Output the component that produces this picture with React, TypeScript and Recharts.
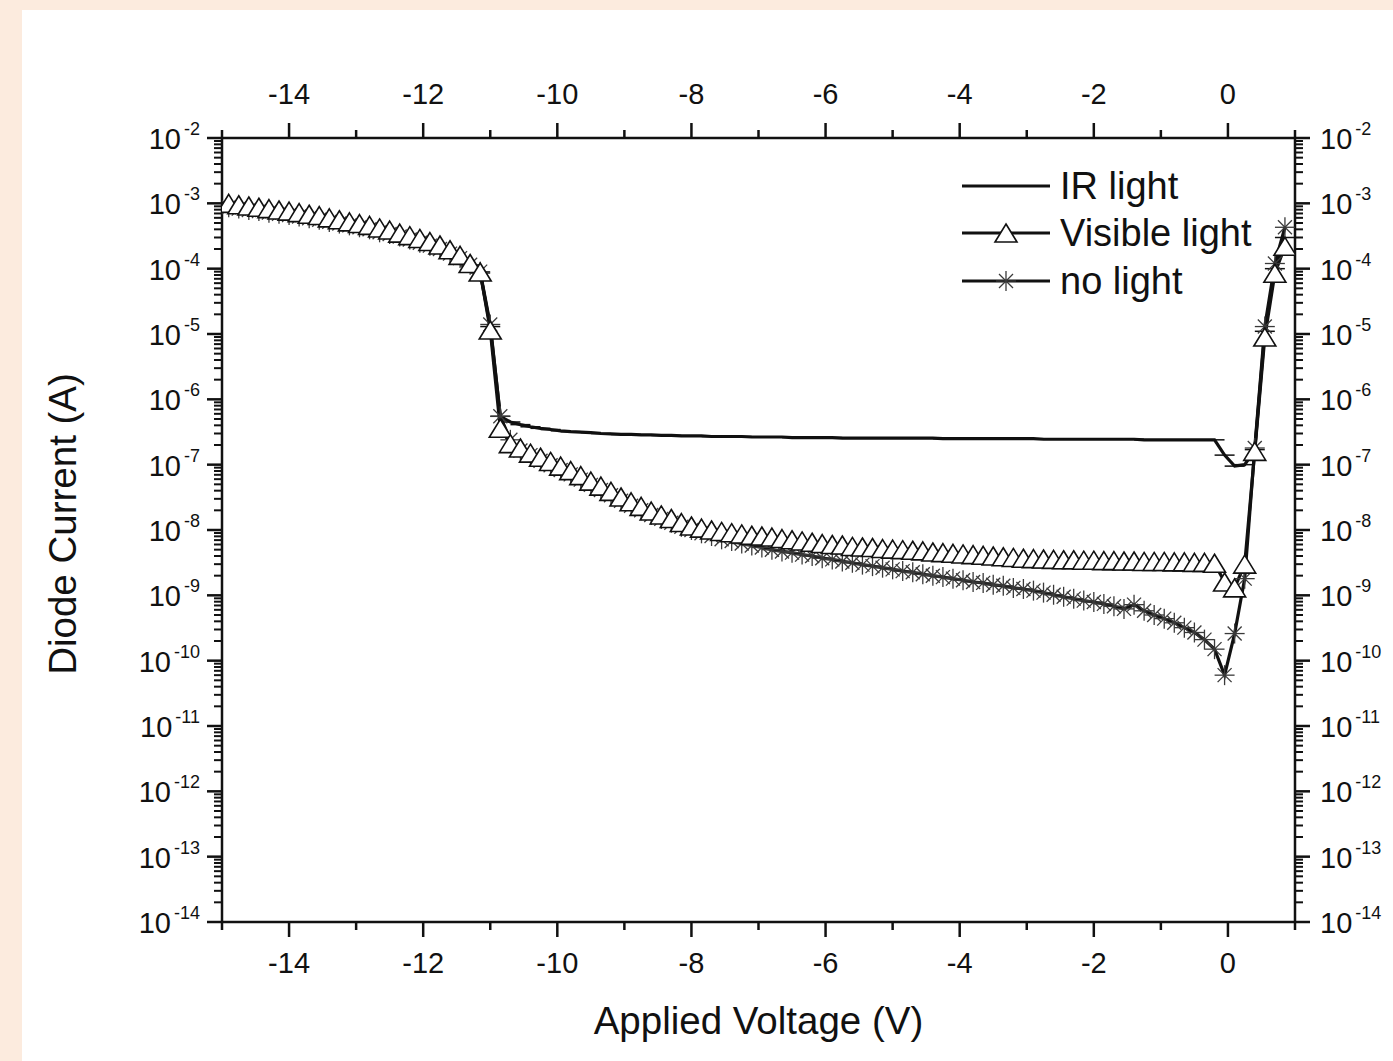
import React from 'react';
import { LineChart, Line, XAxis, YAxis, Legend } from 'recharts';

// ---------- data ----------
const voltage = [
  -14.9, -14.75, -14.6, -14.45, -14.3, -14.15, -14.0, -13.85, -13.7, -13.55,
  -13.4, -13.25, -13.1, -12.95, -12.8, -12.65, -12.5, -12.35, -12.2, -12.05,
  -11.9, -11.75, -11.6, -11.45, -11.3, -11.15, -11.0, -10.85, -10.7, -10.55,
  -10.4, -10.25, -10.1, -9.95, -9.8, -9.65, -9.5, -9.35, -9.2, -9.05,
  -8.9, -8.75, -8.6, -8.45, -8.3, -8.15, -8.0, -7.85, -7.7, -7.55,
  -7.4, -7.25, -7.1, -6.95, -6.8, -6.65, -6.5, -6.35, -6.2, -6.05,
  -5.9, -5.75, -5.6, -5.45, -5.3, -5.15, -5.0, -4.85, -4.7, -4.55,
  -4.4, -4.25, -4.1, -3.95, -3.8, -3.65, -3.5, -3.35, -3.2, -3.05,
  -2.9, -2.75, -2.6, -2.45, -2.3, -2.15, -2.0, -1.85, -1.7, -1.55,
  -1.4, -1.25, -1.1, -0.95, -0.8, -0.65, -0.5, -0.35, -0.2, -0.05,
  0.1, 0.25, 0.4, 0.55, 0.7, 0.85,
];

const irLight = [
  8.5e-4, 8.1e-4, 7.8e-4, 7.4e-4, 7.1e-4, 6.8e-4, 6.5e-4, 6.2e-4, 5.8e-4, 5.5e-4,
  5.1e-4, 4.8e-4, 4.5e-4, 4.2e-4, 3.9e-4, 3.6e-4, 3.3e-4, 3.0e-4, 2.7e-4, 2.45e-4,
  2.2e-4, 1.95e-4, 1.7e-4, 1.4e-4, 1.1e-4, 8.6e-5, 1.3e-5, 5.5e-7, 4.5e-7, 4.1e-7,
  3.8e-7, 3.6e-7, 3.45e-7, 3.3e-7, 3.2e-7, 3.15e-7, 3.1e-7, 3.0e-7, 2.95e-7, 2.9e-7,
  2.9e-7, 2.85e-7, 2.85e-7, 2.8e-7, 2.8e-7, 2.75e-7, 2.75e-7, 2.75e-7, 2.7e-7, 2.7e-7,
  2.7e-7, 2.7e-7, 2.65e-7, 2.65e-7, 2.65e-7, 2.65e-7, 2.6e-7, 2.6e-7, 2.6e-7, 2.6e-7,
  2.6e-7, 2.55e-7, 2.55e-7, 2.55e-7, 2.55e-7, 2.55e-7, 2.55e-7, 2.55e-7, 2.55e-7, 2.55e-7,
  2.55e-7, 2.5e-7, 2.5e-7, 2.5e-7, 2.5e-7, 2.5e-7, 2.5e-7, 2.5e-7, 2.5e-7, 2.5e-7,
  2.5e-7, 2.45e-7, 2.45e-7, 2.45e-7, 2.45e-7, 2.45e-7, 2.45e-7, 2.45e-7, 2.45e-7, 2.45e-7,
  2.45e-7, 2.4e-7, 2.4e-7, 2.4e-7, 2.4e-7, 2.4e-7, 2.4e-7, 2.4e-7, 2.4e-7, 1.4e-7,
  9.5e-8, 1.0e-7, 1.7e-7, 1.1e-5, 1.0e-4, 3.0e-4,
];

const visibleLight = [
  1.0e-3, 9.5e-4, 9.1e-4, 8.7e-4, 8.3e-4, 7.9e-4, 7.6e-4, 7.2e-4, 6.8e-4, 6.5e-4,
  6.0e-4, 5.6e-4, 5.2e-4, 4.9e-4, 4.6e-4, 4.2e-4, 3.9e-4, 3.5e-4, 3.2e-4, 2.9e-4,
  2.6e-4, 2.3e-4, 1.95e-4, 1.6e-4, 1.2e-4, 8.9e-5, 1.15e-5, 3.6e-7, 2.1e-7, 1.8e-7,
  1.5e-7, 1.3e-7, 1.12e-7, 9.5e-8, 8.1e-8, 6.8e-8, 5.6e-8, 4.7e-8, 3.9e-8, 3.2e-8,
  2.7e-8, 2.3e-8, 1.95e-8, 1.7e-8, 1.5e-8, 1.3e-8, 1.15e-8, 1.07e-8, 1.0e-8, 9.5e-9,
  9.1e-9, 8.7e-9, 8.3e-9, 8.1e-9, 7.8e-9, 7.4e-9, 7.1e-9, 6.8e-9, 6.5e-9, 6.2e-9,
  6.0e-9, 5.9e-9, 5.6e-9, 5.5e-9, 5.4e-9, 5.2e-9, 5.1e-9, 5.0e-9, 4.9e-9, 4.8e-9,
  4.6e-9, 4.5e-9, 4.4e-9, 4.3e-9, 4.2e-9, 4.1e-9, 4.0e-9, 3.9e-9, 3.8e-9, 3.7e-9,
  3.65e-9, 3.6e-9, 3.55e-9, 3.5e-9, 3.5e-9, 3.45e-9, 3.45e-9, 3.4e-9, 3.4e-9, 3.35e-9,
  3.35e-9, 3.3e-9, 3.3e-9, 3.3e-9, 3.25e-9, 3.25e-9, 3.2e-9, 3.2e-9, 3.1e-9, 1.6e-9,
  1.3e-9, 3.0e-9, 1.6e-7, 9.0e-6, 8.5e-5, 2.2e-4,
];

const noLight = [
  8.7e-4, 8.3e-4, 7.9e-4, 7.6e-4, 7.2e-4, 6.9e-4, 6.6e-4, 6.3e-4, 5.9e-4, 5.6e-4,
  5.2e-4, 4.9e-4, 4.6e-4, 4.3e-4, 4.0e-4, 3.6e-4, 3.4e-4, 3.1e-4, 2.8e-4, 2.5e-4,
  2.25e-4, 2.0e-4, 1.7e-4, 1.45e-4, 1.15e-4, 9.0e-5, 1.4e-5, 5.5e-7, 2.4e-7, 1.65e-7,
  1.4e-7, 1.15e-7, 9.8e-8, 8.3e-8, 7.1e-8, 5.9e-8, 4.9e-8, 4.1e-8, 3.4e-8, 2.8e-8,
  2.35e-8, 2.0e-8, 1.7e-8, 1.48e-8, 1.29e-8, 1.12e-8, 1.0e-8, 8.9e-9, 8.1e-9, 7.2e-9,
  6.8e-9, 6.2e-9, 5.8e-9, 5.4e-9, 5.0e-9, 4.7e-9, 4.5e-9, 4.2e-9, 4.0e-9, 3.7e-9,
  3.55e-9, 3.3e-9, 3.15e-9, 2.95e-9, 2.8e-9, 2.65e-9, 2.5e-9, 2.35e-9, 2.25e-9, 2.1e-9,
  2.0e-9, 1.9e-9, 1.8e-9, 1.7e-9, 1.6e-9, 1.55e-9, 1.45e-9, 1.4e-9, 1.3e-9, 1.25e-9,
  1.18e-9, 1.1e-9, 1.02e-9, 9.5e-10, 8.9e-10, 8.3e-10, 7.9e-10, 7.4e-10, 6.8e-10, 6.2e-10,
  7.2e-10, 5.8e-10, 5.0e-10, 4.4e-10, 3.8e-10, 3.2e-10, 2.7e-10, 2.1e-10, 1.5e-10, 6.0e-11,
  2.6e-10, 1.8e-9, 1.8e-7, 1.3e-5, 1.2e-4, 4.3e-4,
];

const xMajorTicks = [-14, -12, -10, -8, -6, -4, -2, 0];
const xMinorTicks = [-15, -13, -11, -9, -7, -5, -3, -1, 1];
const yExponents = [-14, -13, -12, -11, -10, -9, -8, -7, -6, -5, -4, -3, -2];
const yMinorFactors = [2, 3, 4, 5, 6, 7, 8, 9];

const seriesNames = { ir: 'IR light', vis: 'Visible light', dark: 'no light' };

// ---------- tables built from the arrays ----------
const data = voltage.map((v, i) => ({ v, ir: irLight[i], vis: visibleLight[i], dark: noLight[i] }));
const xTicks = [...xMajorTicks, ...xMinorTicks].sort((a, b) => a - b);
const yTicks: number[] = [];
yExponents.forEach((e) => {
  yTicks.push(Math.pow(10, e));
  if (e < -2) yMinorFactors.forEach((f) => yTicks.push(f * Math.pow(10, e)));
});
yTicks.sort((a, b) => a - b);

const FONT = '"Liberation Sans", Arial, Helvetica, sans-serif';
const INK = '#111111';
const TICK_FONT = 29;
const EXP_FONT = 18;
const TITLE_FONT = 38.5;
const LEGEND_FONT = 38;

// ---------- ticks ----------
function XTick(props: any) {
  const { x, y, payload, side } = props;
  const v = payload.value;
  const major = xMajorTicks.includes(v);
  const len = major ? 15 : 8;
  const dir = side === 'top' ? -1 : 1;
  return (
    <g>
      <line x1={x} x2={x} y1={y} y2={y + dir * len} stroke={INK} strokeWidth={2.5} />
      {major && (
        <text x={x} y={side === 'top' ? y - 34 : y + 51} textAnchor="middle" fontSize={TICK_FONT} fontFamily={FONT} fill={INK}>
          {String(v)}
        </text>
      )}
    </g>
  );
}

function YTick(props: any) {
  const { x, y, payload, side } = props;
  const v = payload.value;
  const lg = Math.log10(v);
  const e = Math.round(lg);
  const major = Math.abs(lg - e) < 1e-6;
  const len = major ? 15 : 8;
  const dir = side === 'left' ? -1 : 1;
  return (
    <g>
      <line x1={x} x2={x + dir * len} y1={y} y2={y} stroke={INK} strokeWidth={major ? 2.5 : 2} />
      {major && (
        <text
          x={side === 'left' ? x - 22 : x + 25}
          y={y + 11}
          textAnchor={side === 'left' ? 'end' : 'start'}
          fontSize={TICK_FONT}
          fontFamily={FONT}
          fill={INK}
        >
          10
          <tspan dx={3} dy={-14} fontSize={EXP_FONT}>{String(e)}</tspan>
        </text>
      )}
    </g>
  );
}

// ---------- markers ----------
function TriangleShape({ cx, cy }: { cx: number; cy: number }) {
  const w = 22;
  const h = 18;
  return (
    <polygon
      points={`${cx},${cy - h / 2} ${cx + w / 2},${cy + h / 2} ${cx - w / 2},${cy + h / 2}`}
      fill="#ffffff"
      stroke={INK}
      strokeWidth={1.6}
    />
  );
}

function StarShape({ cx, cy }: { cx: number; cy: number }) {
  const r = 10;
  const d = 7;
  return (
    <g stroke="#3a3a3a" strokeWidth={1.3} fill="none">
      <line x1={cx} y1={cy - r} x2={cx} y2={cy + r} />
      <line x1={cx - r} y1={cy} x2={cx + r} y2={cy} />
      <line x1={cx - d} y1={cy - d} x2={cx + d} y2={cy + d} />
      <line x1={cx - d} y1={cy + d} x2={cx + d} y2={cy - d} />
    </g>
  );
}

const triangleDot = (props: any) => {
  const { cx, cy, index } = props;
  if (cx == null || cy == null) return <g key={`t${index}`} />;
  return <g key={`t${index}`}><TriangleShape cx={cx} cy={cy} /></g>;
};

const starDot = (props: any) => {
  const { cx, cy, index } = props;
  if (cx == null || cy == null) return <g key={`s${index}`} />;
  return <g key={`s${index}`}><StarShape cx={cx} cy={cy} /></g>;
};

const dashDot = (props: any) => {
  const { cx, cy, index } = props;
  if (cx == null || cy == null) return <g key={`d${index}`} />;
  return <line key={`d${index}`} x1={cx - 10} x2={cx + 10} y1={cy} y2={cy} stroke={INK} strokeWidth={1.5} />;
};

// ---------- titles ----------
const xTitle = (props: any) => {
  const vb = props.viewBox || { x: 200, y: 912, width: 1073, height: 50 };
  return (
    <text x={vb.x + vb.width / 2} y={vb.y + 112} textAnchor="middle" fontSize={TITLE_FONT} fontFamily={FONT} fill={INK}>
      Applied Voltage (V)
    </text>
  );
};

const yTitle = (props: any) => {
  const vb = props.viewBox || { x: 120, y: 128, width: 80, height: 784 };
  const x = vb.x - 66;
  const y = vb.y + vb.height / 2 - 6;
  return (
    <text x={x} y={y} transform={`rotate(-90, ${x}, ${y})`} textAnchor="middle" fontSize={TITLE_FONT} fontFamily={FONT} fill={INK}>
      Diode Current (A)
    </text>
  );
};

// ---------- legend ----------
function LegendBox() {
  const rows = [
    { name: seriesNames.ir, y: 36, marker: '' },
    { name: seriesNames.vis, y: 83, marker: 'tri' },
    { name: seriesNames.dark, y: 131, marker: 'star' },
  ];
  return (
    <svg width={380} height={170} style={{ display: 'block', overflow: 'visible' }}>
      {rows.map((r) => (
        <g key={r.name}>
          <line x1={22} x2={110} y1={r.y} y2={r.y} stroke={INK} strokeWidth={3} />
          {r.marker === 'tri' && <TriangleShape cx={66} cy={r.y} />}
          {r.marker === 'star' && <StarShape cx={66} cy={r.y} />}
          <text x={120} y={r.y + 13} fontSize={LEGEND_FONT} fontFamily={FONT} fill={INK}>
            {r.name}
          </text>
        </g>
      ))}
    </svg>
  );
}

export default function App() {
  const axisLine = { stroke: INK, strokeWidth: 2.5 };
  return (
    <div style={{ position: 'absolute', left: 0, top: 0, width: 1393, height: 1061, background: '#FCEBDE', overflow: 'hidden' }}>
      <div style={{ position: 'absolute', left: 22, top: 10, width: 1371, height: 1051, background: '#FFFFFF' }}>
        <LineChart width={1371} height={1051} data={data} margin={{ top: 78, right: 18, bottom: 89, left: 120 }}>
          <XAxis
            xAxisId="bottom"
            dataKey="v"
            type="number"
            orientation="bottom"
            domain={[-15, 1]}
            allowDataOverflow
            ticks={xTicks}
            interval={0}
            height={50}
            tickSize={0}
            tickMargin={0}
            tickLine={false}
            axisLine={axisLine}
            tick={(p: any) => <XTick {...p} side="bottom" />}
            label={xTitle}
          />
          <XAxis
            xAxisId="top"
            dataKey="v"
            type="number"
            orientation="top"
            domain={[-15, 1]}
            allowDataOverflow
            ticks={xTicks}
            interval={0}
            height={50}
            tickSize={0}
            tickMargin={0}
            tickLine={false}
            axisLine={axisLine}
            tick={(p: any) => <XTick {...p} side="top" />}
          />
          <YAxis
            yAxisId="left"
            orientation="left"
            type="number"
            scale="log"
            domain={[1e-14, 1e-2]}
            allowDataOverflow
            ticks={yTicks}
            interval={0}
            width={80}
            tickSize={0}
            tickMargin={0}
            tickLine={false}
            axisLine={axisLine}
            tick={(p: any) => <YTick {...p} side="left" />}
            label={yTitle}
          />
          <YAxis
            yAxisId="right"
            orientation="right"
            type="number"
            scale="log"
            domain={[1e-14, 1e-2]}
            allowDataOverflow
            ticks={yTicks}
            interval={0}
            width={80}
            tickSize={0}
            tickMargin={0}
            tickLine={false}
            axisLine={axisLine}
            tick={(p: any) => <YTick {...p} side="right" />}
          />
          <Legend
            layout="vertical"
            align="center"
            verticalAlign="middle"
            wrapperStyle={{ left: 918, top: 140, width: 380, height: 170, margin: 0, padding: 0 }}
            content={() => <LegendBox />}
          />
          <Line
            xAxisId="bottom"
            yAxisId="left"
            dataKey="ir"
            name={seriesNames.ir}
            type="linear"
            stroke={INK}
            strokeWidth={3.2}
            dot={dashDot}
            activeDot={false}
            isAnimationActive={false}
          />
          <Line
            xAxisId="bottom"
            yAxisId="left"
            dataKey="dark"
            name={seriesNames.dark}
            type="linear"
            stroke={INK}
            strokeWidth={3.2}
            dot={starDot}
            activeDot={false}
            isAnimationActive={false}
          />
          <Line
            xAxisId="bottom"
            yAxisId="left"
            dataKey="vis"
            name={seriesNames.vis}
            type="linear"
            stroke={INK}
            strokeWidth={3.2}
            dot={triangleDot}
            activeDot={false}
            isAnimationActive={false}
          />
        </LineChart>
      </div>
    </div>
  );
}
